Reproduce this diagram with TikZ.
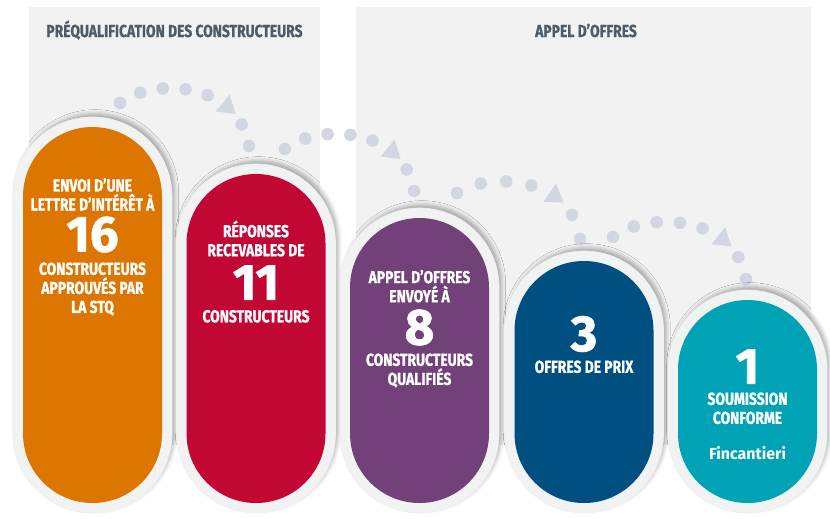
\documentclass[tikz,border=0pt]{standalone}
\usepackage{fontspec}
\setmainfont{Fira Sans}
\newfontfamily\condfont[FakeStretch=0.8,FakeBold=1]{Fira Sans}
\newfontfamily\numfont[FakeBold=1.5]{Fira Sans}
\usetikzlibrary{decorations.markings,shadows.blur}

\definecolor{orangeC}{RGB}{221,118,0}
\definecolor{redC}{RGB}{195,7,52}
\definecolor{purpleC}{RGB}{114,65,122}
\definecolor{blueC}{RGB}{0,79,129}
\definecolor{tealC}{RGB}{0,162,182}
\definecolor{dotC}{RGB}{209,214,223}
\definecolor{panelC}{RGB}{242,242,242}
\definecolor{ringC}{RGB}{241,242,242}
\definecolor{titleC}{RGB}{78,91,107}

\tikzset{every picture/.style={line width=0.75pt}}
\tikzset{
  ring/.style={rectangle, fill=ringC, draw=black!6, line width=0.5pt, minimum width=119.25pt, rounded corners=59.6pt, inner sep=0pt,
    blur shadow={shadow xshift=2pt, shadow yshift=2.5pt, shadow blur radius=3pt, shadow opacity=30}},
  pill/.style={rectangle, minimum width=104.25pt, rounded corners=52.1pt, inner sep=0pt},
  pilltxt/.style={text=white, align=center, inner sep=0pt, font=\condfont\bfseries\fontsize{13}{14.3}\selectfont},
  bignum/.style={text=white, inner sep=0pt, font=\numfont\bfseries\fontsize{38}{38}\selectfont},
  paneltitle/.style={text=titleC, inner sep=0pt, font=\condfont\bfseries\fontsize{13}{14.3}\selectfont},
  dotarc/.style 2 args={postaction={decorate}, decoration={markings,
    mark=between positions 0 and 1 step #1 with {%
      \ifnum\pgfkeysvalueof{/pgf/decoration/mark info/sequence number}=#2\relax
        \fill[dotC] (11,0) -- (-6,11) -- (-6,-11) -- cycle;
      \else
        \fill[dotC] (0,0) circle (6.3);
      \fi}}},
}

\begin{document}
\begin{tikzpicture}[x=0.75pt,y=0.75pt,yscale=-1,xscale=1]
\useasboundingbox (0,0) rectangle (830,518);

%Panels
\fill[panelC] (29,7) rectangle (320,445);
\fill[panelC] (356,7) rectangle (811,445);
\node[paneltitle, anchor=base] (tpre) at (174.5,37) {PRÉQUALIFICATION DES CONSTRUCTEURS};
\node[paneltitle, anchor=base] (tappel) at (586,37) {APPEL D’OFFRES};

%Dotted arcs
\coordinate (a1s) at (120,103); \coordinate (a1e) at (249,146);
\coordinate (a2s) at (285,149); \coordinate (a2e) at (414,191);
\coordinate (a3s) at (457,193); \coordinate (a3e) at (580,239);
\coordinate (a4s) at (613,237); \coordinate (a4e) at (746,279);
\path[dotarc={0.1428}{6}] (a1s) .. controls (150,78) and (238,80) .. (a1e);
\path[dotarc={0.1428}{6}] (a2s) .. controls (315,124) and (403,125) .. (a2e);
\path[dotarc={0.1666}{5}] (a3s) .. controls (487,172) and (572,175) .. (a3e);
\path[dotarc={0.1428}{6}] (a4s) .. controls (643,212) and (735,213) .. (a4e);

%Pills
\node[ring, minimum height=297pt] (r1) at (92.5,315) {};
\node[pill, fill=orangeC, minimum height=282pt] (p1) at (92.5,315) {};
\node[ring, minimum height=261.75pt] (r2) at (256,338.5) {};
\node[pill, fill=redC, minimum height=246.75pt] (p2) at (256,338.5) {};
\node[ring, minimum height=228.75pt] (r3) at (419.5,360.5) {};
\node[pill, fill=purpleC, minimum height=213.75pt] (p3) at (419.5,360.5) {};
\node[ring, minimum height=196.5pt] (r4) at (584,382) {};
\node[pill, fill=blueC, minimum height=181.5pt] (p4) at (584,382) {};
\node[ring, minimum height=167.25pt] (r5) at (747.5,401.5) {};
\node[pill, fill=tealC, minimum height=152.25pt] (p5) at (747.5,401.5) {};

%Texts
\node[bignum] (n1) at (92.5,234.5) {16};
\node[pilltxt, anchor=south] (u1) at (92.5,211) {ENVOI D’UNE\\LETTRE D’INTÉRÊT À};
\node[pilltxt, anchor=north] (l1) at (92.5,262) {CONSTRUCTEURS\\APPROUVÉS PAR\\LA STQ};

\node[bignum] (n2) at (256,282.5) {11};
\node[pilltxt, anchor=south] (u2) at (256,257) {RÉPONSES\\RECEVABLES DE};
\node[pilltxt, anchor=north] (l2) at (256,309.5) {CONSTRUCTEURS};

\node[bignum] (n3) at (419.5,327.5) {8};
\node[pilltxt, anchor=south] (u3) at (419.5,303) {APPEL D’OFFRES\\ENVOYÉ À};
\node[pilltxt, anchor=north] (l3) at (419.5,353) {CONSTRUCTEURS\\QUALIFIÉS};

\node[bignum] (n4) at (584,334) {3};
\node[pilltxt, anchor=north] (l4) at (584,360) {OFFRES DE PRIX};

\node[bignum] (n5) at (747.5,366.5) {1};
\node[pilltxt, anchor=north] (l5) at (747.5,392) {SOUMISSION\\CONFORME};
\node[text=white, inner sep=0pt, anchor=base, font=\bfseries\fontsize{12}{14}\selectfont] (f5) at (747.5,459) {Fincantieri};
\end{tikzpicture}
\end{document}
